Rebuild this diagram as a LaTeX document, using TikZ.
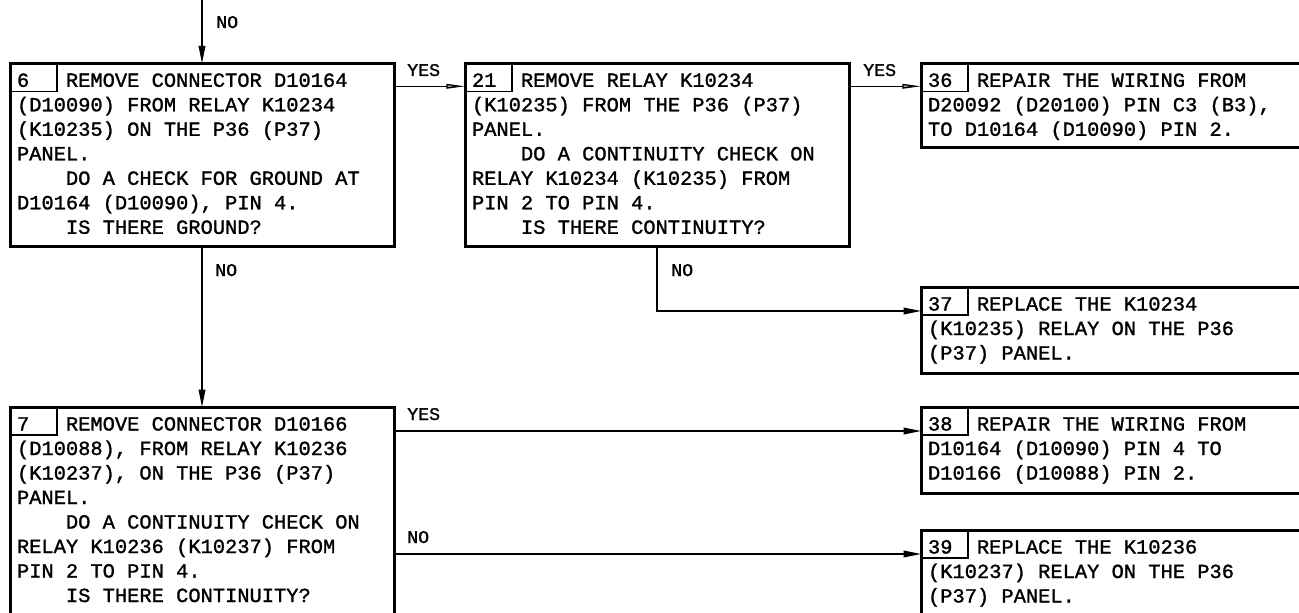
\documentclass[tikz,border=0pt]{standalone}
\usepackage{fontspec}
\newfontfamily\monof[FakeStretch=1.02,FakeBold=1.3]{Liberation Mono}
\usetikzlibrary{arrows.meta,calc}
\newcommand\ind{\hphantom{0000}}
\newcommand\boxtext[1]{\parbox[t]{330pt}{\raggedright\monof\fontsize{15pt}{18.375pt}\selectfont #1}}
\begin{document}
\begin{tikzpicture}[x=0.75pt,y=-0.75pt,
  stepbox/.style={draw, line width=2.25pt, rectangle, anchor=north west, inner sep=0pt, outer sep=0pt, minimum width=288pt},
  numcell/.style={draw, line width=0.8pt},
  btext/.style={anchor=base west, inner sep=0pt, outer sep=0pt},
  lbl/.style={anchor=base west, inner sep=0pt, font=\monof\fontsize{13.4pt}{14pt}\selectfont},
  conn/.style={line width=1pt},
  fillarrow/.style={conn, -{Triangle[length=13pt,width=5pt]}},
  openarrow/.style={conn, -{Triangle[length=14pt,width=3.5pt,fill=black!35]}}
]
\clip (0,0) rectangle (1299,613);
\fill[white] (0,0) rectangle (1299,613);

% boxes
\node[stepbox, minimum height=137.55pt] (b6) at (10,63.3) {};
\node[stepbox, minimum height=137.55pt] (b21) at (465,63.3) {};
\node[stepbox, minimum width=306.75pt, minimum height=63.5pt] (b36) at (921,63.3) {};
\node[stepbox, minimum width=306.75pt, minimum height=64.5pt] (b37) at (921,287) {};
\node[stepbox, minimum width=306.75pt, minimum height=64.5pt] (b38) at (921,407) {};
\node[stepbox, minimum width=306.75pt, minimum height=64.5pt] (b39) at (921,530) {};
\node[stepbox, minimum height=174.75pt] (b7) at (10,407) {};

% number cells
\foreach \b in {b6,b21,b36,b37,b38,b39,b7}{
  \draw[numcell] (\b.north west) rectangle ++(47,28);
}

% texts
\node[btext] (t6) at ($(b6.north west)+(7,23.5)$) {\boxtext{6\hphantom{000}REMOVE CONNECTOR D10164\\
(D10090) FROM RELAY K10234\\
(K10235) ON THE P36 (P37)\\
PANEL.\\
\ind DO A CHECK FOR GROUND AT\\
D10164 (D10090), PIN 4.\\
\ind IS THERE GROUND?}};

\node[btext] (t21) at ($(b21.north west)+(7,23.5)$) {\boxtext{21\hphantom{00}REMOVE RELAY K10234\\
(K10235) FROM THE P36 (P37)\\
PANEL.\\
\ind DO A CONTINUITY CHECK ON\\
RELAY K10234 (K10235) FROM\\
PIN 2 TO PIN 4.\\
\ind IS THERE CONTINUITY?}};

\node[btext] (t36) at ($(b36.north west)+(7,23.5)$) {\boxtext{36\hphantom{00}REPAIR THE WIRING FROM\\
D20092 (D20100) PIN C3 (B3),\\
TO D10164 (D10090) PIN 2.}};

\node[btext] (t37) at ($(b37.north west)+(7,23.5)$) {\boxtext{37\hphantom{00}REPLACE THE K10234\\
(K10235) RELAY ON THE P36\\
(P37) PANEL.}};

\node[btext] (t38) at ($(b38.north west)+(7,23.5)$) {\boxtext{38\hphantom{00}REPAIR THE WIRING FROM\\
D10164 (D10090) PIN 4 TO\\
D10166 (D10088) PIN 2.}};

\node[btext] (t39) at ($(b39.north west)+(7,23.5)$) {\boxtext{39\hphantom{00}REPLACE THE K10236\\
(K10237) RELAY ON THE P36\\
(P37) PANEL.}};

\node[btext] (t7) at ($(b7.north west)+(7,23.5)$) {\boxtext{7\hphantom{000}REMOVE CONNECTOR D10166\\
(D10088), FROM RELAY K10236\\
(K10237), ON THE P36 (P37)\\
PANEL.\\
\ind DO A CONTINUITY CHECK ON\\
RELAY K10236 (K10237) FROM\\
PIN 2 TO PIN 4.\\
\ind IS THERE CONTINUITY?}};

% connectors
\coordinate (start) at (202,0);
\draw[fillarrow] (start) -- (start |- b6.north);
\draw[openarrow] ($(b6.north east)+(0,23)$) -- ($(b21.north west)+(0,23)$);
\draw[openarrow] ($(b21.north east)+(0,23)$) -- ($(b36.north west)+(0,23)$);
\draw[fillarrow] (start |- b6.south) -- (start |- b7.north);
\draw[fillarrow] ($(b21.south west)+(192,0)$) |- ($(b37.north west)+(0,24)$);
\draw[fillarrow] ($(b7.north east)+(0,24)$) -- ($(b38.north west)+(0,24)$);
\draw[fillarrow] ($(b7.north east)+(0,147)$) -- ($(b39.north west)+(0,24)$);

% labels
\node[lbl] (l1) at (216,28) {NO};
\node[lbl] (l2) at (407,76) {YES};
\node[lbl] (l3) at (863,76) {YES};
\node[lbl] (l4) at (215,276) {NO};
\node[lbl] (l5) at (671,276) {NO};
\node[lbl] (l6) at (407,420) {YES};
\node[lbl] (l7) at (407,543) {NO};
\end{tikzpicture}
\end{document}
